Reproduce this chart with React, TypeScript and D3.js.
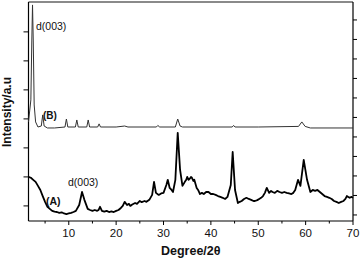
import React from "react";
import * as d3 from "d3";

// sample (A): degree / intensity (left axis units)
const degA = [1.5, 2.0, 2.5, 3.0, 3.5, 4.0, 4.5, 5.0, 5.5, 6.0, 6.5, 7.0, 7.5, 8, 8.5, 9, 9.5, 10, 10.5, 11, 11.5, 12.2, 12.8, 13.3, 14, 14.5, 15, 15.5, 16, 16.3, 16.6, 17, 17.5, 18, 18.5, 19, 19.5, 20, 20.5, 21, 21.4, 21.8, 22.3, 22.7, 23, 23.4, 24, 24.4, 25, 25.4, 26, 26.4, 27, 27.6, 28, 28.4, 29, 29.5, 30, 30.6, 30.9, 31.3, 31.7, 32, 32.5, 33, 33.5, 34, 34.5, 34.8, 35, 35.3, 35.5, 35.8, 36, 36.3, 36.5, 37, 37.3, 37.7, 38.1, 38.5, 39, 39.5, 40, 40.5, 41, 41.5, 42, 42.5, 43, 43.5, 44.2, 44.6, 45.1, 45.7, 46.1, 46.5, 47, 47.5, 48, 48.5, 49, 49.3, 49.8, 50.2, 50.6, 51, 51.4, 51.8, 52.3, 52.7, 53, 53.5, 54, 54.5, 55, 55.5, 56, 56.5, 57, 57.4, 57.8, 58.4, 58.9, 59.6, 60.3, 61, 61.5, 62, 62.5, 63, 63.5, 64, 64.5, 65, 65.5, 66, 66.5, 67, 67.5, 68, 68.4, 68.7, 69, 69.3, 69.7, 70];
const intA = [1.0, 0.97, 0.9, 0.83, 0.69, 0.55, 0.34, 0.14, -0.03, -0.1, -0.17, -0.2, -0.21, -0.24, -0.22, -0.26, -0.28, -0.26, -0.24, -0.21, -0.17, 0.03, 0.48, 0.21, -0.1, -0.14, -0.17, -0.14, -0.17, -0.14, -0.03, -0.17, -0.2, -0.17, -0.21, -0.19, -0.21, -0.17, -0.14, -0.07, 0.0, 0.14, 0.03, 0.07, 0.0, 0.05, 0.1, 0.07, 0.17, 0.13, 0.17, 0.14, 0.21, 0.38, 0.83, 0.45, 0.38, 0.43, 0.45, 0.72, 0.9, 0.62, 0.55, 0.48, 0.9, 2.52, 1.24, 0.69, 0.83, 0.9, 1.0, 0.9, 0.93, 1.0, 0.97, 0.86, 0.9, 0.62, 0.55, 0.41, 0.45, 0.41, 0.48, 0.48, 0.41, 0.41, 0.38, 0.34, 0.31, 0.28, 0.24, 0.31, 0.72, 1.86, 0.55, 0.1, 0.14, 0.17, 0.24, 0.28, 0.24, 0.21, 0.17, 0.17, 0.2, 0.24, 0.28, 0.34, 0.45, 0.62, 0.45, 0.52, 0.48, 0.45, 0.52, 0.48, 0.45, 0.48, 0.45, 0.43, 0.41, 0.45, 0.55, 0.9, 0.69, 1.59, 0.9, 0.48, 0.55, 0.52, 0.55, 0.48, 0.41, 0.34, 0.31, 0.28, 0.24, 0.17, 0.14, 0.1, 0.14, 0.17, 0.24, 0.34, 0.31, 0.28, 0.31, 0.28];

// sample (B): degree / intensity (right axis units)
const degB = [1.5, 2.0, 2.2, 2.35, 2.5, 2.7, 3.0, 3.5, 4.2, 4.5, 4.8, 5.5, 7, 9.2, 9.5, 9.8, 11.4, 11.7, 12.0, 13.8, 14.1, 14.4, 16.1, 16.4, 16.7, 20, 21.8, 22.5, 28.5, 28.8, 29.2, 32.5, 33.0, 33.5, 34, 44.5, 44.8, 45.1, 50, 58.5, 59.2, 59.9, 61, 70];
const intB = [4.77, 5.9, 8.97, 10.77, 8.97, 5.64, 4.77, 4.51, 4.56, 5.13, 4.56, 4.46, 4.46, 4.51, 4.92, 4.51, 4.51, 4.87, 4.51, 4.51, 4.87, 4.51, 4.51, 4.67, 4.51, 4.51, 4.56, 4.51, 4.51, 4.59, 4.51, 4.51, 4.92, 4.56, 4.51, 4.51, 4.59, 4.51, 4.51, 4.54, 4.77, 4.54, 4.46, 4.46];

const xMajor = [10, 20, 30, 40, 50, 60, 70];
const xMinor = [5, 15, 25, 35, 45, 55, 65];
const leftTicks = [0, 1, 2, 3, 4, 5, 6];
const rightTicks = [0, 1, 2, 3, 4, 5, 6, 7, 8, 9, 10];

const W = 361;
const H = 261;
const margin = { top: 2, right: 8, bottom: 40, left: 28.5 };

export default function App() {
  const x = d3
    .scaleLinear()
    .domain([1.5, 70])
    .range([margin.left, W - margin.right]);
  const yLeft = d3
    .scaleLinear()
    .domain([-0.52, 7.03])
    .range([H - margin.bottom, margin.top]);
  const yRight = d3
    .scaleLinear()
    .domain([-0.31, 10.92])
    .range([H - margin.bottom, margin.top]);

  const lineA = d3
    .line<number>()
    .x((d, i) => x(degA[i]))
    .y((d) => yLeft(d));
  const lineB = d3
    .line<number>()
    .x((d, i) => x(degB[i]))
    .y((d) => yRight(d));

  const x0 = margin.left;
  const x1 = W - margin.right;
  const y0 = H - margin.bottom;
  const y1 = margin.top;
  const font = "'Liberation Sans', Arial, sans-serif";

  return (
    <svg
      width={W}
      height={H}
      style={{ position: "absolute", left: 0, top: 0, background: "#fff" }}
      fontFamily={font}
    >
      {/* frame */}
      <line x1={x0} x2={x1} y1={y1} y2={y1} stroke="#8a8a8a" strokeWidth={2} />
      <line x1={x0} x2={x0} y1={y1} y2={y0} stroke="#000" strokeWidth={1.2} />
      <line x1={x1} x2={x1} y1={y1} y2={y0} stroke="#000" strokeWidth={1.2} />
      <line x1={x0} x2={x1} y1={y0} y2={y0} stroke="#000" strokeWidth={1.2} />

      {/* bottom ticks */}
      {xMajor.map((t) => (
        <g key={"M" + t}>
          <line x1={x(t)} x2={x(t)} y1={y0} y2={y0 + 4} stroke="#000" />
          <text x={x(t)} y={y0 + 16} textAnchor="middle" fontSize={11.5} fill="#111">
            {t}
          </text>
        </g>
      ))}
      {xMinor.map((t) => (
        <line key={"m" + t} x1={x(t)} x2={x(t)} y1={y0} y2={y0 + 2.5} stroke="#000" />
      ))}

      {/* left ticks */}
      {leftTicks.map((t) => (
        <line key={"l" + t} x1={x0 - 5} x2={x0} y1={yLeft(t)} y2={yLeft(t)} stroke="#000" />
      ))}
      {/* right ticks */}
      {rightTicks.map((t) => (
        <line key={"r" + t} x1={x1} x2={x1 + 4} y1={yRight(t)} y2={yRight(t)} stroke="#000" />
      ))}

      {/* curves */}
      <path d={lineB(intB) || ""} fill="none" stroke="#333" strokeWidth={1} />
      <path d={lineA(intA) || ""} fill="none" stroke="#000" strokeWidth={1.8} strokeLinejoin="round" />

      {/* annotations */}
      <text x={36} y={30} fontSize={10.5} fill="#111">d(003)</text>
      <text x={43} y={119} fontSize={10} fontWeight="bold" fill="#111">(B)</text>
      <text x={68} y={186} fontSize={10.5} fill="#111">d(003)</text>
      <text x={46} y={205} fontSize={10.5} fontWeight="bold" fill="#111">(A)</text>

      {/* axis titles */}
      <text x={(x0 + x1) / 2} y={255} textAnchor="middle" fontSize={12.5} fontWeight="bold" fill="#111">
        Degree/2θ
      </text>
      <text
        transform={`translate(11,112) rotate(-90)`}
        textAnchor="middle"
        fontSize={12}
        fontWeight="bold"
        fill="#111"
      >
        Intensity/a.u
      </text>
    </svg>
  );
}
